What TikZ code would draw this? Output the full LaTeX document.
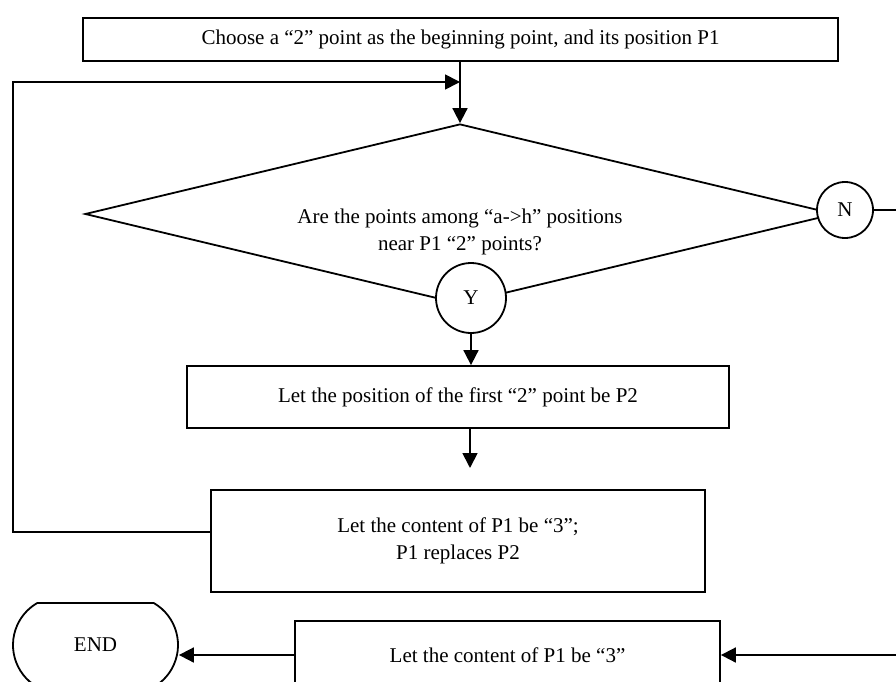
\documentclass[tikz,border=0pt]{standalone}
\usepackage{fontspec}
\setmainfont{Liberation Serif}
\usetikzlibrary{shapes.geometric,shapes.misc,arrows.meta}
\begin{document}
\begin{tikzpicture}[x=1pt,y=-1pt,
  line width=1.8pt,
  every node/.style={font=\fontsize{21}{27}\selectfont},
  box/.style={draw, rectangle, inner sep=0pt, align=center},
  circ/.style={draw, circle, fill=white, inner sep=0pt},
  arr/.style={-{Triangle[length=15pt,width=15pt]}},
]
\useasboundingbox (0,0) rectangle (896,682);
% nodes
\node[box, minimum width=755pt, minimum height=43pt] (start) at (460.5,39.5)
  {Choose a “2” point as the beginning point, and its position P1};
\node[draw, diamond, minimum width=750pt, minimum height=180pt, inner sep=0pt] (dec) at (460,214) {};
\node[align=center, inner sep=0pt] (q) at (460,232)
  {Are the points among “a->h” positions\\near P1 “2” points?};
\node[circ, minimum size=70pt] (Y) at (471,298) {Y};
\node[circ, minimum size=56pt] (N) at (845,210) {N};
\node[box, minimum width=542pt, minimum height=62pt] (pos) at (458,397)
  {Let the position of the first “2” point be P2};
\node[box, minimum width=494pt, minimum height=102pt] (rep) at (458,541)
  {Let the content of P1 be “3”;\\P1 replaces P2};
\node[box, minimum width=425pt, minimum height=68pt] (last) at (507.5,655)
  {Let the content of P1 be “3”};
\node[draw, rounded rectangle, rounded rectangle arc length=120,
  minimum width=165pt, minimum height=84pt, inner sep=0pt] (endn) at (95.5,645) {END};
% free ends
\coordinate (c1) at (470,468);
\coordinate (lc) at (13,82);
\coordinate (lj) at (460,82);
\coordinate (redge) at (896,210);
\coordinate (redge2) at (896,655);
% connectors
\draw[arr] (dec.north |- start.south) -- (dec.north);
\draw[arr] (Y.south) -- (Y.south |- pos.north);
\draw[arr] (pos.south -| c1) -- (c1);
\draw[arr] ([yshift=9pt]rep.west) -| (lc) -- (lj);
\draw (N.east) -- (redge);
\draw[arr] (redge2) -- (last.east);
\draw[arr] (last.west) -- (last.west -| endn.east);
\end{tikzpicture}
\end{document}
